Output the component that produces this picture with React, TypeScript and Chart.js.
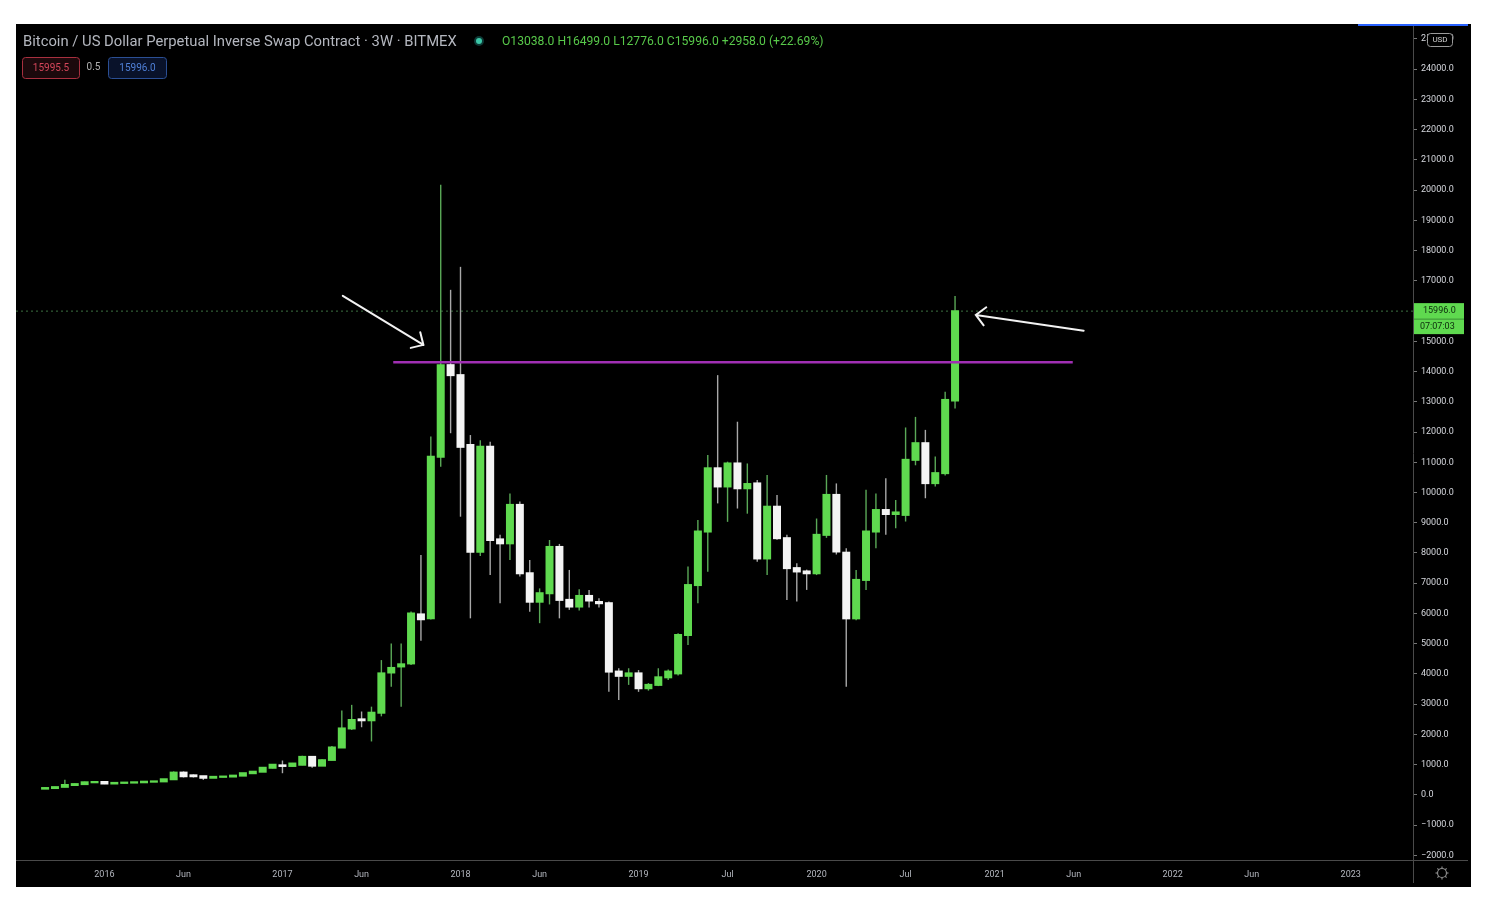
import { useEffect, useRef } from 'react';
import { Chart, registerables } from 'chart.js';

Chart.register(...registerables);

// ---- Data, USD ----
const OPEN = [210, 230, 270, 330, 360, 420, 430, 380, 400, 410, 420, 440, 450, 520, 740, 650, 620, 570, 600, 610, 640, 720, 770, 900, 980, 960, 1000, 1260, 970, 1160, 1570, 2200, 2500, 2470, 2720, 4050, 4250, 4350, 5970, 5840, 11180, 14210, 13880, 11570, 8040, 11510, 8450, 8320, 9590, 7330, 6390, 6670, 8200, 6450, 6230, 6580, 6380, 6340, 4080, 3940, 4020, 3530, 3640, 3890, 4020, 5290, 6940, 8710, 10800, 10200, 10960, 10140, 10300, 7820, 9530, 8490, 7500, 7390, 7330, 8600, 9920, 8010, 5840, 7110, 8710, 9420, 9290, 9260, 11080, 11630, 10310, 10640, 13038];
const HIGH = [250, 270, 500, 380, 440, 460, 440, 420, 420, 430, 450, 460, 530, 780, 780, 680, 630, 620, 630, 650, 730, 780, 910, 1020, 1140, 1060, 1300, 1280, 1180, 1620, 2790, 2980, 2760, 2920, 4460, 5010, 5010, 6070, 7930, 11850, 20170, 16700, 17460, 11900, 11730, 11680, 8600, 9970, 9700, 7770, 6830, 8430, 8300, 7440, 6800, 6780, 6500, 6400, 4190, 4190, 4130, 3700, 4190, 4150, 5350, 7550, 9090, 11240, 13880, 11020, 12340, 10960, 10410, 10580, 9920, 8600, 7660, 7450, 9140, 10580, 10300, 8160, 7440, 10090, 9970, 10470, 9750, 12150, 12500, 12070, 11190, 13330, 16499];
const LOW = [200, 220, 260, 300, 350, 400, 360, 370, 390, 400, 410, 430, 440, 500, 580, 580, 500, 560, 590, 600, 630, 700, 760, 880, 720, 940, 980, 900, 960, 1150, 1550, 2150, 2240, 1770, 2600, 3580, 2920, 4300, 5100, 5800, 10850, 11960, 9200, 5840, 7900, 7270, 6340, 7770, 7220, 6060, 5680, 6300, 5840, 6120, 6100, 6200, 6200, 3410, 3140, 3640, 3410, 3450, 3600, 3800, 3950, 4960, 6340, 7380, 9640, 9030, 9470, 9300, 7710, 7270, 8440, 6450, 6400, 6780, 7270, 8500, 7950, 3580, 5780, 6780, 8160, 8600, 8820, 9040, 10900, 9810, 10200, 10560, 12776];
const CLOSE = [230, 260, 330, 360, 420, 430, 380, 400, 410, 420, 440, 450, 520, 740, 620, 620, 570, 600, 610, 640, 720, 770, 900, 1000, 960, 1040, 1260, 970, 1150, 1570, 2200, 2480, 2470, 2720, 4020, 4200, 4320, 6000, 5810, 11180, 14210, 13880, 11510, 8040, 11510, 8430, 8320, 9590, 7330, 6390, 6670, 8200, 6450, 6230, 6580, 6430, 6340, 4080, 3940, 4020, 3530, 3640, 3890, 4080, 5290, 6940, 8710, 10800, 10200, 10960, 10140, 10280, 7820, 9530, 8490, 7500, 7390, 7330, 8600, 9920, 8050, 5840, 7110, 8710, 9420, 9290, 9340, 11080, 11630, 10310, 10640, 13060, 15996];

const X_TICK_POS = [6, 14, 24, 32, 42, 50, 60, 69, 78, 87, 96, 104, 114, 122, 132];
const X_TICK_LABELS = ['2016', 'Jun', '2017', 'Jun', '2018', 'Jun', '2019', 'Jul', '2020', 'Jul', '2021', 'Jun', '2022', 'Jun', '2023'];
const Y_TICKS = [-2000, -1000, 0, 1000, 2000, 3000, 4000, 5000, 6000, 7000, 8000, 9000, 10000, 11000, 12000, 13000, 14000, 15000, 16000, 17000, 18000, 19000, 20000, 21000, 22000, 23000, 24000, 25000];

const X_MIN = -2.94;
const X_MAX = 138.3;
const Y_MIN = -2149;
const Y_MAX = 25488;

const LEVEL = { from: 35.2, to: 103.9, price: 14310 };
const ARROWS = [
  { x1: 30.1, y1: 16500, x2: 38.25, y2: 14880 },
  { x1: 105.0, y1: 15350, x2: 94.1, y2: 15870 },
];

const TITLE = 'Bitcoin / US Dollar Perpetual Inverse Swap Contract · 3W · BITMEX';
const BID = 15995.5;
const SPREAD = 0.5;
const ASK = 15996.0;
const COUNTDOWN = '07:07:03';
const CURRENCY = 'USD';

const GREEN = '#5fd94f';
const WHITE = '#f4f4f4';
const FONT = 'Roboto, "DejaVu Sans", sans-serif';

const fmt = (v: number) => v.toFixed(1);

export default function App() {
  const ref = useRef<HTMLCanvasElement | null>(null);

  useEffect(() => {
    if (!ref.current) return;
    const n = OPEN.length;
    const idx = OPEN.map((_, i) => i);
    const up = idx.map((i) => CLOSE[i] >= OPEN[i]);
    const last = CLOSE[n - 1];
    const lastOpen = OPEN[n - 1];

    const overlay = {
      id: 'overlay',
      beforeDraw(chart: any) {
        const { ctx, width, height } = chart;
        ctx.save();
        ctx.fillStyle = '#000';
        ctx.fillRect(0, 0, width, height);
        ctx.restore();
      },
      afterDatasetsDraw(chart: any) {
        const { ctx } = chart;
        const xs = chart.scales.x;
        const ys = chart.scales.y;
        ctx.save();
        ctx.strokeStyle = '#f2f2f2';
        ctx.lineWidth = 2;
        ctx.lineCap = 'round';
        ARROWS.forEach((a) => {
          const x1 = xs.getPixelForValue(a.x1);
          const y1 = ys.getPixelForValue(a.y1);
          const x2 = xs.getPixelForValue(a.x2);
          const y2 = ys.getPixelForValue(a.y2);
          const ang = Math.atan2(y1 - y2, x1 - x2);
          const L = 13;
          ctx.beginPath();
          ctx.moveTo(x1, y1);
          ctx.lineTo(x2, y2);
          ctx.moveTo(x2 + L * Math.cos(ang - 0.78), y2 + L * Math.sin(ang - 0.78));
          ctx.lineTo(x2, y2);
          ctx.lineTo(x2 + L * Math.cos(ang + 0.78), y2 + L * Math.sin(ang + 0.78));
          ctx.stroke();
        });
        ctx.restore();
      },
      afterDraw(chart: any) {
        const { ctx, chartArea, width, height } = chart;
        const ys = chart.scales.y;
        ctx.save();
        // axis separator lines
        ctx.strokeStyle = '#4a4a4a';
        ctx.lineWidth = 1;
        ctx.beginPath();
        ctx.moveTo(0, Math.round(chartArea.bottom) + 0.5);
        ctx.lineTo(width - 3, Math.round(chartArea.bottom) + 0.5);
        ctx.moveTo(Math.round(chartArea.right) + 0.5, 0);
        ctx.lineTo(Math.round(chartArea.right) + 0.5, height - 4);
        ctx.stroke();

        // top blue accent
        ctx.fillStyle = '#2962ff';
        ctx.fillRect(1342, 0, 110, 2);

        // last price label on axis
        const yc = ys.getPixelForValue(last);
        const bx = chartArea.right + 1;
        ctx.fillStyle = GREEN;
        ctx.fillRect(bx, yc - 8, 50, 31);
        ctx.fillStyle = '#3c8f35';
        ctx.fillRect(bx, yc + 7.5, 50, 1);
        ctx.fillStyle = '#0c2a0c';
        ctx.font = `9px ${FONT}`;
        ctx.textBaseline = 'middle';
        ctx.textAlign = 'left';
        ctx.fillText(fmt(last), bx + 9, yc);
        ctx.fillText(COUNTDOWN, bx + 6, yc + 15.5);

        // currency box
        ctx.fillStyle = '#000';
        ctx.strokeStyle = '#9a9a9a';
        ctx.beginPath();
        ctx.roundRect(1411.5, 9.5, 25, 13, 3);
        ctx.fill();
        ctx.stroke();
        ctx.fillStyle = '#d0d0d0';
        ctx.font = `8px ${FONT}`;
        ctx.textAlign = 'center';
        ctx.fillText(CURRENCY, 1424, 16);

        // gear icon
        ctx.strokeStyle = '#8a8a8a';
        ctx.lineWidth = 1.2;
        ctx.beginPath();
        ctx.arc(1426, 849, 4.5, 0, Math.PI * 2);
        ctx.stroke();
        for (let k = 0; k < 8; k++) {
          const a = (k * Math.PI) / 4;
          ctx.beginPath();
          ctx.moveTo(1426 + 4.5 * Math.cos(a), 849 + 4.5 * Math.sin(a));
          ctx.lineTo(1426 + 6.5 * Math.cos(a), 849 + 6.5 * Math.sin(a));
          ctx.stroke();
        }

        // header title
        ctx.textAlign = 'left';
        ctx.textBaseline = 'middle';
        ctx.font = `13px ${FONT}`;
        let w = ctx.measureText(TITLE).width;
        const ts = (13 * 434) / w;
        ctx.font = `${ts.toFixed(2)}px ${FONT}`;
        ctx.fillStyle = '#b4b7bf';
        ctx.fillText(TITLE, 7, 18);

        // status dot
        ctx.fillStyle = 'rgba(38,166,154,0.35)';
        ctx.beginPath();
        ctx.arc(463, 17, 5, 0, Math.PI * 2);
        ctx.fill();
        ctx.fillStyle = '#3cc7a8';
        ctx.beginPath();
        ctx.arc(463, 17, 3, 0, Math.PI * 2);
        ctx.fill();

        // OHLC
        const chg = last - lastOpen;
        const pct = (chg / lastOpen) * 100;
        const ohlc = `O${fmt(lastOpen)} H${fmt(HIGH[n - 1])} L${fmt(LOW[n - 1])} C${fmt(last)} ${chg >= 0 ? '+' : ''}${fmt(chg)} (${pct >= 0 ? '+' : ''}${pct.toFixed(2)}%)`;
        ctx.font = `11px ${FONT}`;
        w = ctx.measureText(ohlc).width;
        ctx.font = `${((11 * 322) / w).toFixed(2)}px ${FONT}`;
        ctx.fillStyle = '#58c94a';
        ctx.fillText(ohlc, 486, 18);

        // bid / spread / ask boxes
        ctx.font = `10px ${FONT}`;
        ctx.lineWidth = 1;
        ctx.fillStyle = '#1c090c';
        ctx.strokeStyle = '#a8303f';
        ctx.beginPath();
        ctx.roundRect(6.5, 33.5, 57, 21, 3);
        ctx.fill();
        ctx.stroke();
        ctx.fillStyle = '#d4465a';
        ctx.textAlign = 'center';
        ctx.fillText(fmt(BID), 35, 44);
        ctx.fillStyle = '#b0b0b0';
        ctx.fillText(String(SPREAD), 77.5, 43.5);
        ctx.fillStyle = '#09122a';
        ctx.strokeStyle = '#2b4f94';
        ctx.beginPath();
        ctx.roundRect(92.5, 33.5, 58, 21, 3);
        ctx.fill();
        ctx.stroke();
        ctx.fillStyle = '#4f7fd6';
        ctx.fillText(fmt(ASK), 121.5, 44);
        ctx.restore();
      },
    };

    const chart = new Chart(ref.current, {
      type: 'bar',
      data: {
        datasets: [
          {
            type: 'line',
            label: 'level',
            data: [
              { x: LEVEL.from, y: LEVEL.price },
              { x: LEVEL.to, y: LEVEL.price },
            ],
            borderColor: '#a02fb3',
            borderWidth: 2.5,
            pointRadius: 0,
            order: 1,
          } as any,
          {
            type: 'line',
            label: 'last',
            data: [
              { x: X_MIN, y: last },
              { x: X_MAX, y: last },
            ],
            borderColor: 'rgba(80,150,85,0.75)',
            borderDash: [2, 3],
            borderWidth: 1,
            pointRadius: 0,
            order: 5,
          } as any,
          {
            type: 'bar',
            label: 'wicks',
            data: idx.map((i) => ({ x: i, y: [LOW[i], HIGH[i]] })),
            backgroundColor: up.map((u) => (u ? '#5aa857' : '#a8a8a8')),
            barThickness: 1.4,
            inflateAmount: 0,
            grouped: false,
            order: 3,
          } as any,
          {
            type: 'bar',
            label: 'bodies',
            data: idx.map((i) => ({ x: i, y: [OPEN[i], CLOSE[i]] })),
            backgroundColor: up.map((u) => (u ? GREEN : WHITE)),
            barThickness: 6,
            inflateAmount: 1,
            grouped: false,
            order: 2,
          } as any,
        ],
      },
      options: {
        animation: false,
        responsive: false,
        maintainAspectRatio: false,
        layout: { padding: 0, autoPadding: false },
        events: [],
        plugins: { legend: { display: false }, tooltip: { enabled: false } },
        scales: {
          x: {
            type: 'linear',
            min: X_MIN,
            max: X_MAX,
            offset: false,
            grid: { display: false, drawTicks: false },
            border: { display: false },
            afterBuildTicks: (s: any) => {
              s.ticks = X_TICK_POS.map((v) => ({ value: v }));
            },
            afterFit: (s: any) => {
              s.height = 27;
              s.paddingLeft = 0;
              s.paddingRight = 0;
            },
            ticks: {
              autoSkip: false,
              maxRotation: 0,
              padding: 9,
              color: '#b4b7bf',
              font: { family: FONT, size: 9 },
              callback: (v: any) => {
                const k = X_TICK_POS.indexOf(Number(v));
                return k >= 0 ? X_TICK_LABELS[k] : '';
              },
            },
          },
          y: {
            type: 'linear',
            position: 'right',
            min: Y_MIN,
            max: Y_MAX,
            grid: { drawOnChartArea: false, drawTicks: true, tickLength: 4, tickColor: '#777', color: '#777' },
            border: { display: false },
            afterBuildTicks: (s: any) => {
              s.ticks = Y_TICKS.map((v) => ({ value: v }));
            },
            afterFit: (s: any) => {
              s.width = 58;
              s.paddingTop = 0;
              s.paddingBottom = 0;
            },
            ticks: {
              autoSkip: false,
              padding: 4,
              color: '#d6d8de',
              font: { family: FONT, size: 9 },
              callback: (v: any) => {
                const num = Number(v);
                return num < 0 ? '\u2212' + fmt(-num) : fmt(num);
              },
            },
          },
        },
      },
      plugins: [overlay],
    } as any);

    return () => chart.destroy();
  }, []);

  return (
    <div style={{ position: 'absolute', left: 16, top: 24, width: 1455, height: 863, background: '#000' }}>
      <canvas ref={ref} width={1455} height={863} style={{ display: 'block', width: 1455, height: 863 }} />
    </div>
  );
}
